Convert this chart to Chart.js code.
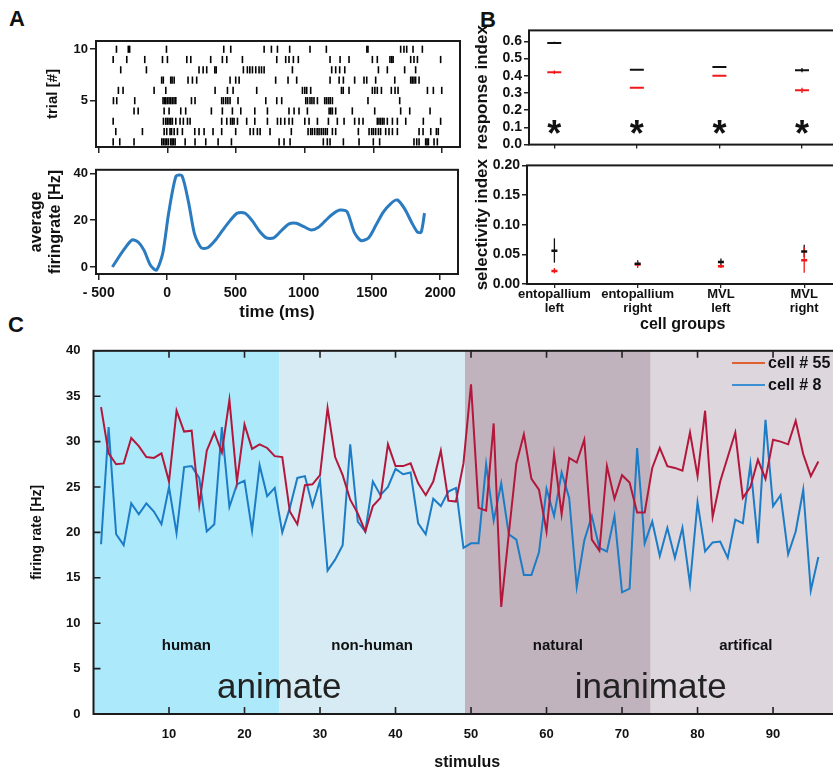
<!DOCTYPE html>
<html>
<head>
<meta charset="utf-8">
<script src="https://cdn.jsdelivr.net/npm/chart.js@4.4.1/dist/chart.umd.min.js"></script>
<style>
html, body { margin: 0; padding: 0; background: #fff; overflow: hidden; width: 833px; height: 772px; }
.box { position: absolute; }
.letter { position: absolute; font: bold 22px 'Liberation Sans', Arial, sans-serif; color: #111; }
</style>
</head>
<body>
<div class="letter" style="left:9px;top:6px">A</div>
<div class="letter" style="left:480px;top:7px">B</div>
<div class="letter" style="left:8px;top:312px">C</div>
<div class="box" style="left:0;top:30px;width:470px;height:130px"><canvas id="raster"></canvas></div>
<div class="box" style="left:0;top:160px;width:470px;height:165px"><canvas id="rate"></canvas></div>
<div class="box" style="left:470px;top:20px;width:375px;height:135px"><canvas id="resp"></canvas></div>
<div class="box" style="left:470px;top:155px;width:375px;height:178px"><canvas id="sel"></canvas></div>
<div class="box" style="left:0;top:330px;width:841px;height:442px"><canvas id="stim"></canvas></div>
<script>
// ---- panel A: spike raster (ms), one list per trial
const trial1 = [-395, -347, -243, -41, -29, -17, -5, 7, 24, 34, 44, 56, 129, 201, 279, 369, 466, 813, 849, 893, 1135, 1164, 1184, 1281, 1395, 1499, 1545, 1795, 1815, 1832, 1880, 1890, 1900, 1941, 1965];
const trial2 = [-376, -182, -24, -5, 19, 30, 49, 73, 109, 199, 230, 267, 332, 395, 497, 602, 626, 655, 675, 747, 902, 1024, 1043, 1055, 1072, 1090, 1104, 1120, 1135, 1150, 1164, 1201, 1225, 1390, 1468, 1487, 1500, 1516, 1536, 1552, 1589, 1613, 1638, 1674, 1832, 1861, 1917, 1958, 1972];
const trial3 = [-395, -29, -12, 0, 12, 24, 36, 61, 92, 116, 146, 165, 395, 432, 460, 473, 485, 510, 577, 636, 728, 801, 825, 854, 885, 910, 1000, 1031, 1092, 1172, 1237, 1286, 1363, 1395, 1424, 1528, 1540, 1552, 1565, 1577, 1601, 1638, 1674, 1735, 1863, 1989];
const trial4 = [-243, -213, -24, 12, 97, 133, 320, 400, 473, 534, 636, 728, 885, 922, 958, 1019, 1177, 1189, 1201, 1225, 1346, 1509, 1698, 1764, 1912];
const trial5 = [-393, -369, -238, -32, -20, -12, 0, 12, 24, 36, 48, 61, 175, 201, 395, 408, 425, 440, 456, 514, 716, 796, 832, 1007, 1020, 1038, 1052, 1067, 1092, 1145, 1158, 1172, 1185, 1201, 1460, 1691];
const trial6 = [-357, -323, -97, -12, 347, 437, 478, 650, 983, 1000, 1014, 1043, 1267, 1280, 1322, 1492, 1510, 1528, 1558, 1630, 1657, 1679, 1893, 1936, 1997];
const trial7 = [-42, -30, 24, 34, 49, 150, 182, 213, 456, 497, 522, 788, 878, 941, 1184, 1250, 1281, 1363, 1431, 1451, 1516, 1655, 1771, 1782, 1795, 1807, 1832];
const trial8 = [-340, -153, 230, 260, 286, 345, 355, 553, 582, 600, 619, 643, 667, 685, 704, 910, 1196, 1225, 1254, 1291, 1536, 1601, 1727, 1807];
const trial9 = [-395, -296, -165, -36, 0, 141, 170, 315, 400, 432, 546, 796, 861, 885, 917, 953, 1184, 1257, 1322, 1492, 1528, 1620, 1633, 1643, 1771, 1795, 1820, 1989];
const trial10 = [-371, -285, -275, -7, 410, 461, 704, 757, 801, 890, 1038, 1157, 1452, 1460, 1698, 1722, 1742, 1788, 1856];
const trialTicks = [5, 10];

// ---- panel A: average firing rate
const rateTime = [-400, -315, -255, -211, -170, -121, -78, -32, 12, 66, 109, 158, 201, 250, 298, 352, 405, 461, 514, 570, 623, 674, 728, 781, 837, 893, 946, 1002, 1055, 1109, 1160, 1213, 1266, 1317, 1371, 1419, 1475, 1528, 1582, 1638, 1686, 1742, 1790, 1832, 1860, 1885];
const rateHz = [0, 7.5, 11.6, 10.6, 7.3, 0.7, -1.4, 5.7, 23, 38.8, 39.0, 27.5, 14.1, 8.2, 8.2, 11.3, 15.5, 19.8, 23.0, 23.0, 19.8, 15.5, 12.4, 12.4, 15.5, 18.4, 18.7, 17.2, 15.8, 17.0, 19.8, 22.6, 24.3, 23.7, 14.8, 11.3, 12.4, 17.7, 23.3, 27.1, 28.6, 24.6, 19.1, 15.0, 14.8, 23.0];
const timeTicks = [-500, 0, 500, 1000, 1500, 2000];
const rateTicks = [0, 20, 40];

// ---- panel B
const groups = [['entopallium', 'left'], ['entopallium', 'right'], ['MVL', 'left'], ['MVL', 'right']];
const groupPos = [1, 2, 3, 4];
const respBlack = [0.59, 0.435, 0.45, 0.432];
const respBlackLo = [0.584, 0.433, 0.448, 0.42];
const respBlackHi = [0.597, 0.437, 0.452, 0.445];
const respRed = [0.42, 0.33, 0.40, 0.315];
const respRedLo = [0.41, 0.328, 0.398, 0.30];
const respRedHi = [0.43, 0.332, 0.402, 0.33];
const sigLevel = [0.12, 0.12, 0.12, 0.12];
const respTicks = [0, 0.1, 0.2, 0.3, 0.4, 0.5, 0.6];
const selBlack = [0.056, 0.034, 0.037, 0.055];
const selBlackLo = [0.036, 0.030, 0.032, 0.045];
const selBlackHi = [0.077, 0.040, 0.043, 0.066];
const selRed = [0.022, 0.033, 0.030, 0.040];
const selRedLo = [0.018, 0.027, 0.027, 0.019];
const selRedHi = [0.027, 0.038, 0.033, 0.062];
const selTicks = [0, 0.05, 0.1, 0.15, 0.2];

// ---- panel C
const cell55 = [33.8, 28.7, 27.5, 27.6, 30.4, 29.5, 28.3, 28.2, 28.7, 25.6, 33.4, 31.1, 31.2, 23.0, 29.0, 31.0, 28.8, 34.6, 25.6, 31.9,
  29.2, 29.7, 29.3, 28.4, 28.3, 22.3, 20.9, 25.2, 25.3, 26.3, 33.7, 28.3, 26.3, 23.6, 22.1, 20.1, 22.9, 23.8, 29.7, 27.3,
  27.3, 27.6, 25.4, 24.1, 25.6, 29.0, 23.5, 23.4, 27.6, 36.3, 22.7, 22.4, 32.0, 11.8, 19.8, 27.6, 30.8, 25.9, 24.7, 20.1,
  28.6, 22.0, 28.2, 27.7, 30.2, 19.2, 18.0, 27.3, 23.7, 26.3, 25.5, 22.2, 22.2, 27.1, 29.3, 27.3, 27.1, 26.8, 31.0, 26.2,
  33.4, 21.7, 25.6, 28.3, 31.0, 23.8, 25.0, 28.0, 25.9, 30.2, 30.0, 29.7, 32.3, 28.6, 26.2, 27.8];
const cell8 = [18.7, 31.6, 19.8, 18.6, 23.2, 22.0, 23.2, 22.3, 20.9, 25.0, 19.9, 27.2, 27.3, 26.0, 20.1, 20.9, 31.6, 22.8, 25.3, 25.7,
  20.2, 27.4, 24.0, 24.9, 20.0, 22.7, 26.0, 26.2, 22.9, 25.7, 15.8, 17.0, 18.6, 29.7, 21.2, 20.1, 25.6, 24.1, 25.0, 27.0,
  26.4, 26.6, 21.0, 19.8, 23.7, 22.9, 24.5, 24.9, 18.3, 18.8, 18.8, 27.5, 21.3, 25.4, 19.8, 19.2, 15.3, 15.3, 17.8, 24.8,
  21.8, 26.6, 23.8, 14.0, 19.1, 21.8, 18.3, 17.9, 21.8, 13.4, 13.8, 29.3, 18.8, 21.2, 17.4, 20.5, 17.2, 20.5, 14.3, 23.3,
  17.9, 18.9, 19.0, 17.2, 21.4, 21.0, 27.5, 18.8, 32.4, 22.9, 24.1, 17.6, 20.1, 24.7, 13.6, 17.3];
const stimulus = cell55.map((_, i) => i + 1);
const stimTicks = [10, 20, 30, 40, 50, 60, 70, 80, 90];
const rateAxisTicks = [0, 5, 10, 15, 20, 25, 30, 35, 40];
const bandNames = ['human', 'non-human', 'natural', 'artifical'];
const bandEdges = [0, 24.6, 49.2, 73.8, 99];
const bandColors = ['#ace9fb', '#d6ebf3', '#c0b3bd', '#ddd6dd'];
const classNames = ['animate', 'inanimate'];
const legendNames = ['cell # 55', 'cell # 8'];

const FONT = "'Liberation Sans', Arial, sans-serif";
Chart.defaults.font.family = FONT;
Chart.defaults.color = '#111';
Chart.defaults.animation = false;
Chart.defaults.plugins.legend.display = false;
Chart.defaults.plugins.tooltip.enabled = false;

const bold = (size) => ({ size: size, weight: 'bold' });
const fixW = (w) => (s) => { s.width = w; };
const fixH = (h) => (s) => { s.height = h; };
const setTicks = (vals) => (s) => { s.ticks = vals.map(v => ({ value: v })); };

// background bands, drawn under the lines
const bands = {
  id: 'bands',
  beforeDatasetsDraw(chart, args, opts) {
    if (!opts || !opts.edges) return;
    const { ctx, chartArea: a, scales: { x } } = chart;
    ctx.save();
    opts.colors.forEach((c, i) => {
      const x0 = Math.max(a.left, x.getPixelForValue(opts.edges[i]));
      const x1 = Math.min(a.right, x.getPixelForValue(opts.edges[i + 1]));
      ctx.fillStyle = c;
      ctx.fillRect(x0, a.top, x1 - x0, a.bottom - a.top);
    });
    ctx.restore();
  }
};

// text placed at data coordinates
function drawTexts(chart, items) {
  const { ctx, scales: { x, y } } = chart;
  ctx.save();
  items.forEach(t => {
    ctx.font = t.font;
    ctx.fillStyle = t.color || '#111';
    ctx.textAlign = 'center';
    ctx.textBaseline = t.baseline || 'middle';
    ctx.fillText(t.text, x.getPixelForValue(t.x), y.getPixelForValue(t.y) + (t.dy || 0));
  });
  ctx.restore();
}
const texts = {
  id: 'texts',
  beforeDatasetsDraw(chart, args, opts) { if (opts && opts.under) drawTexts(chart, opts.under); },
  afterDatasetsDraw(chart, args, opts) { if (opts && opts.over) drawTexts(chart, opts.over); }
};

const errorBars = {
  id: 'errorBars',
  beforeDatasetsDraw(chart, args, opts) {
    if (!opts || !opts.bars) return;
    const { ctx, scales: { x, y } } = chart;
    ctx.save();
    opts.bars.forEach(b => {
      ctx.strokeStyle = b.color;
      ctx.lineWidth = b.width;
      b.lo.forEach((lo, i) => {
        const px = x.getPixelForValue(groupPos[i]);
        ctx.beginPath();
        ctx.moveTo(px, y.getPixelForValue(lo));
        ctx.lineTo(px, y.getPixelForValue(b.hi[i]));
        ctx.stroke();
      });
    });
    ctx.restore();
  }
};

const frame = {
  id: 'frame',
  afterDraw(chart, args, opts) {
    if (!opts || !opts.on) return;
    const { ctx, chartArea: a } = chart;
    ctx.save();
    ctx.strokeStyle = '#1a1a1a';
    ctx.lineWidth = opts.width || 2;
    ctx.strokeRect(a.left, a.top, a.right - a.left, a.bottom - a.top);
    ctx.restore();
  }
};

// ticks pointing into the plot, on all four sides
const innerTicks = {
  id: 'innerTicks',
  afterDraw(chart, args, opts) {
    if (!opts || !opts.len) return;
    const { ctx, chartArea: a, scales: { x, y } } = chart;
    const L = opts.len;
    ctx.save();
    ctx.strokeStyle = '#222';
    ctx.lineWidth = 1.6;
    ctx.beginPath();
    x.ticks.forEach(t => {
      const px = x.getPixelForValue(t.value);
      ctx.moveTo(px, a.bottom); ctx.lineTo(px, a.bottom - L);
      ctx.moveTo(px, a.top); ctx.lineTo(px, a.top + L);
    });
    y.ticks.forEach(t => {
      const py = y.getPixelForValue(t.value);
      ctx.moveTo(a.left, py); ctx.lineTo(a.left + L, py);
      ctx.moveTo(a.right, py); ctx.lineTo(a.right - L, py);
    });
    ctx.stroke();
    ctx.restore();
  }
};

const lineLegend = {
  id: 'lineLegend',
  afterDraw(chart, args, opts) {
    if (!opts || !opts.items) return;
    const { ctx } = chart;
    ctx.save();
    ctx.font = 'bold 16px ' + FONT;
    ctx.textBaseline = 'middle';
    opts.items.forEach((it, i) => {
      const y = opts.top + i * opts.gap;
      ctx.strokeStyle = it.color;
      ctx.lineWidth = 2;
      ctx.beginPath();
      ctx.moveTo(opts.left, y);
      ctx.lineTo(opts.left + opts.len, y);
      ctx.stroke();
      ctx.fillStyle = '#111';
      ctx.fillText(it.text, opts.left + opts.len + 3, y + 1);
    });
    ctx.restore();
  }
};

Chart.register(bands, texts, errorBars, frame, innerTicks, lineLegend);

// ---------- A: raster
const trials = [trial1, trial2, trial3, trial4, trial5, trial6, trial7, trial8, trial9, trial10];
new Chart(document.getElementById('raster'), {
  type: 'scatter',
  data: {
    datasets: trials.map((spikes, k) => ({
      data: spikes.map(t => ({ x: t, y: k + 1 })),
      pointStyle: 'line',
      pointRotation: 90,
      pointRadius: 3.6,
      pointBorderWidth: 1.6,
      pointBorderColor: '#000',
      pointBackgroundColor: '#000'
    }))
  },
  options: {
    responsive: true,
    maintainAspectRatio: false,
    layout: { padding: { left: 40, right: 10, top: 11, bottom: 0 } },
    scales: {
      x: {
        type: 'linear', min: -520, max: 2130,
        afterBuildTicks: setTicks(timeTicks),
        afterFit: fixH(13),
        grid: { drawOnChartArea: false, tickLength: 6, color: '#222', lineWidth: 1.5 },
        border: { display: false },
        ticks: { display: false }
      },
      y: {
        min: 0.5, max: 10.8,
        afterBuildTicks: setTicks(trialTicks),
        afterFit: fixW(56),
        grid: { drawOnChartArea: false, tickLength: 6, color: '#222', lineWidth: 1.5 },
        border: { display: false },
        ticks: { font: bold(13), padding: 2, color: '#111' },
        title: { display: true, text: 'trial [#]', font: bold(15), padding: { top: 4, bottom: 4 }, color: '#111' }
      }
    },
    plugins: { frame: { on: true, width: 2 } }
  }
});

// ---------- A: average firing rate
new Chart(document.getElementById('rate'), {
  type: 'line',
  data: {
    datasets: [{
      data: rateTime.map((t, i) => ({ x: t, y: rateHz[i] })),
      borderColor: '#2a7bbf',
      borderWidth: 3,
      pointRadius: 0,
      tension: 0.25,
      fill: false
    }]
  },
  options: {
    responsive: true,
    maintainAspectRatio: false,
    layout: { padding: { left: 23, right: 12, top: 9, bottom: 0 } },
    scales: {
      x: {
        type: 'linear', min: -520, max: 2130,
        afterBuildTicks: setTicks(timeTicks),
        afterFit: fixH(51),
        grid: { drawOnChartArea: false, tickLength: 6, color: '#222', lineWidth: 1.5 },
        border: { display: false },
        ticks: { font: bold(14), padding: 5, color: '#111', autoSkip: false, callback: v => (v < 0 ? '- ' + (-v) : String(v)) },
        title: { display: true, text: 'time (ms)', font: bold(17), padding: { top: 0, bottom: 2 }, color: '#111' }
      },
      y: {
        min: -3, max: 41.5,
        afterBuildTicks: setTicks(rateTicks),
        afterFit: fixW(73),
        grid: { drawOnChartArea: false, tickLength: 6, color: '#222', lineWidth: 1.5 },
        border: { display: false },
        ticks: { font: bold(13), padding: 2, color: '#111' },
        title: { display: true, text: ['average', 'firingrate [Hz]'], font: bold(16), padding: { top: 4, bottom: 4 }, color: '#111' }
      }
    },
    plugins: { frame: { on: true, width: 2 } }
  }
});

// ---------- B: response index
const dash = (color, r, w) => ({
  pointStyle: 'line', pointRadius: r, pointBorderWidth: w, pointBorderColor: color, pointBackgroundColor: color, showLine: false
});
new Chart(document.getElementById('resp'), {
  type: 'scatter',
  data: {
    datasets: [
      Object.assign({ data: groupPos.map((g, i) => ({ x: g, y: respBlack[i] })) }, dash('#111', 7, 2)),
      Object.assign({ data: groupPos.map((g, i) => ({ x: g, y: respRed[i] })) }, dash('#f01818', 7, 2))
    ]
  },
  options: {
    responsive: true,
    maintainAspectRatio: false,
    layout: { padding: { left: 0, right: 0, top: 6, bottom: 0 } },
    scales: {
      x: {
        type: 'linear', min: 0.694, max: 4.412,
        afterBuildTicks: setTicks(groupPos),
        afterFit: fixH(6),
        grid: { drawOnChartArea: false, tickLength: 4, color: '#222', lineWidth: 1.3 },
        border: { display: false },
        ticks: { display: false }
      },
      y: {
        min: 0, max: 0.663,
        afterBuildTicks: setTicks(respTicks),
        afterFit: fixW(59),
        grid: { drawOnChartArea: false, tickLength: 5, color: '#222', lineWidth: 1.5 },
        border: { display: false },
        ticks: { font: bold(14), padding: 2, color: '#111', autoSkip: false, callback: v => v.toFixed(1) },
        title: { display: true, text: 'response index', font: bold(17), padding: { top: 2, bottom: 2 }, color: '#111' }
      }
    },
    plugins: {
      frame: { on: true, width: 2 },
      errorBars: { bars: [
        { lo: respBlackLo, hi: respBlackHi, color: '#111', width: 1.3 },
        { lo: respRedLo, hi: respRedHi, color: '#f01818', width: 1.3 }
      ] },
      texts: { over: groupPos.map((g, i) => ({ text: '*', x: g, y: sigLevel[i], font: 'bold 36px ' + FONT, baseline: 'alphabetic', dy: 22, color: '#111' })) }
    }
  }
});

// ---------- B: selectivity index
new Chart(document.getElementById('sel'), {
  type: 'scatter',
  data: {
    datasets: [
      Object.assign({ data: groupPos.map((g, i) => ({ x: g, y: selBlack[i] })) }, dash('#111', 3, 2.5)),
      Object.assign({ data: groupPos.map((g, i) => ({ x: g, y: selRed[i] })) }, dash('#f01818', 3, 2.5))
    ]
  },
  options: {
    responsive: true,
    maintainAspectRatio: false,
    layout: { padding: { left: 0, right: 0, top: 8, bottom: 0 } },
    scales: {
      x: {
        type: 'linear', min: 0.671, max: 4.412,
        afterBuildTicks: setTicks(groupPos),
        afterFit: fixH(49),
        grid: { drawOnChartArea: false, tickLength: 4, color: '#222', lineWidth: 1.3 },
        border: { display: false },
        ticks: { font: { size: 13, weight: 'bold', lineHeight: 1.05 }, padding: 0, color: '#111', maxRotation: 0, autoSkip: false,
          callback: v => groups[groupPos.indexOf(v)] || '' },
        title: { display: true, text: 'cell groups', font: { size: 16, weight: 'bold', lineHeight: 1 }, padding: { top: 0, bottom: 0 }, color: '#111' }
      },
      y: {
        min: 0, max: 0.2,
        afterBuildTicks: setTicks(selTicks),
        afterFit: fixW(57),
        grid: { drawOnChartArea: false, tickLength: 5, color: '#222', lineWidth: 1.5 },
        border: { display: false },
        ticks: { font: bold(14), padding: 2, color: '#111', autoSkip: false, callback: v => v.toFixed(2) },
        title: { display: true, text: 'selectivity index', font: bold(17), padding: { top: 2, bottom: 2 }, color: '#111' }
      }
    },
    plugins: {
      frame: { on: true, width: 2 },
      errorBars: { bars: [
        { lo: selBlackLo, hi: selBlackHi, color: '#111', width: 1.3 },
        { lo: selRedLo, hi: selRedHi, color: '#f01818', width: 1.3 }
      ] }
    }
  }
});

// ---------- C: firing rate per stimulus
const bandMid = bandNames.map((_, i) => (bandEdges[i] + bandEdges[i + 1]) / 2);
new Chart(document.getElementById('stim'), {
  type: 'line',
  data: {
    datasets: [
      { label: legendNames[0], data: stimulus.map((s, i) => ({ x: s, y: cell55[i] })), borderColor: '#b3173c', borderWidth: 2, pointRadius: 0, tension: 0 },
      { label: legendNames[1], data: stimulus.map((s, i) => ({ x: s, y: cell8[i] })), borderColor: '#1c7cc6', borderWidth: 2, pointRadius: 0, tension: 0 }
    ]
  },
  options: {
    responsive: true,
    maintainAspectRatio: false,
    layout: { padding: { left: 25, right: 0, top: 13, bottom: 0 } },
    scales: {
      x: {
        type: 'linear', min: 0, max: 99,
        afterBuildTicks: setTicks(stimTicks),
        afterFit: fixH(58),
        grid: { display: false, drawTicks: false },
        border: { display: false },
        ticks: { font: bold(13), padding: 13, color: '#111', autoSkip: false },
        title: { display: true, text: 'stimulus', font: bold(16), padding: { top: 0, bottom: 0 }, color: '#111' }
      },
      y: {
        min: 0, max: 40,
        afterBuildTicks: setTicks(rateAxisTicks),
        afterFit: fixW(68.5),
        grid: { display: false, drawTicks: false },
        border: { display: false },
        ticks: { font: bold(13), padding: 13, color: '#111', autoSkip: false },
        title: { display: true, text: 'firing rate [Hz]', font: bold(14), padding: { top: 4, bottom: 4 }, color: '#111' }
      }
    },
    plugins: {
      bands: { edges: bandEdges, colors: bandColors },
      texts: { under: bandNames.map((n, i) => ({ text: n, x: bandMid[i], y: 7.5, font: 'bold 15px ' + FONT, color: '#111' }))
        .concat(classNames.map((n, i) => ({ text: n, x: bandEdges[1 + 2 * i], y: 1.8, font: '35px ' + FONT, baseline: 'alphabetic', color: '#222' }))) },
      frame: { on: true, width: 2 },
      innerTicks: { len: 7 },
      lineLegend: { items: [{ text: legendNames[0], color: '#e06030' }, { text: legendNames[1], color: '#3d8fd4' }], left: 732, len: 33, top: 33, gap: 22 }
    }
  }
});
</script>
</body>
</html>
